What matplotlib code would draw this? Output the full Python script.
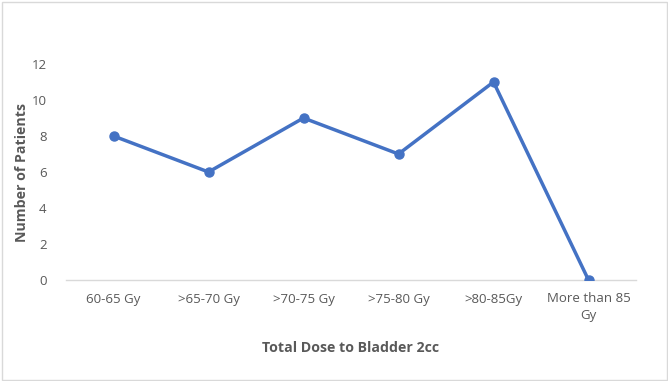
import matplotlib
matplotlib.use("Agg")
import matplotlib.pyplot as plt
from matplotlib.patches import Rectangle

categories = ["60-65 Gy", ">65-70 Gy", ">70-75 Gy", ">75-80 Gy", ">80-85Gy", "More than 85\nGy"]
patients = [8, 6, 9, 7, 11, 0]
yticks = [0, 2, 4, 6, 8, 10, 12]

plt.rcParams['font.family'] = ['Open Sans', 'DejaVu Sans']

W, H = 668, 381
fig = plt.figure(figsize=(W / 100, H / 100), dpi=100)
ax = fig.add_axes([66 / W, 1 - 280 / H, (636 - 66) / W, (280 - 64) / H])

x = list(range(len(categories)))
ax.plot(x, patients, color="#4472C4", linewidth=2.5, marker="o", markersize=6.5,
        solid_capstyle="round", zorder=3)

ax.set_xlim(-0.5, len(categories) - 0.5)
ax.set_ylim(0, 12)
ax.set_yticks(yticks)
ax.set_yticklabels([str(v) for v in yticks])
ax.set_xticks(x)
ax.set_xticklabels(categories, linespacing=1.4)

for s in ["top", "right", "left"]:
    ax.spines[s].set_visible(False)
ax.spines["bottom"].set_color("#d9d9d9")
ax.spines["bottom"].set_linewidth(1.0)
ax.tick_params(axis="both", length=0, labelsize=9.5, labelcolor="#595959")
ax.tick_params(axis="x", pad=9)
ax.tick_params(axis="y", pad=14)

ax.set_xlabel("Total Dose to Bladder 2cc", fontsize=10.2, fontweight="bold", color="#595959", labelpad=13)
ax.set_ylabel("Number of Patients", fontsize=10.2, fontweight="bold", color="#595959", labelpad=2)

fig.patches.append(Rectangle((1.5 / W, 1.5 / H), 1 - 3 / W, 1 - 3 / H, transform=fig.transFigure,
                             fill=False, edgecolor="#d9d9d9", linewidth=1.0))

fig.savefig("out.png", dpi=100)
